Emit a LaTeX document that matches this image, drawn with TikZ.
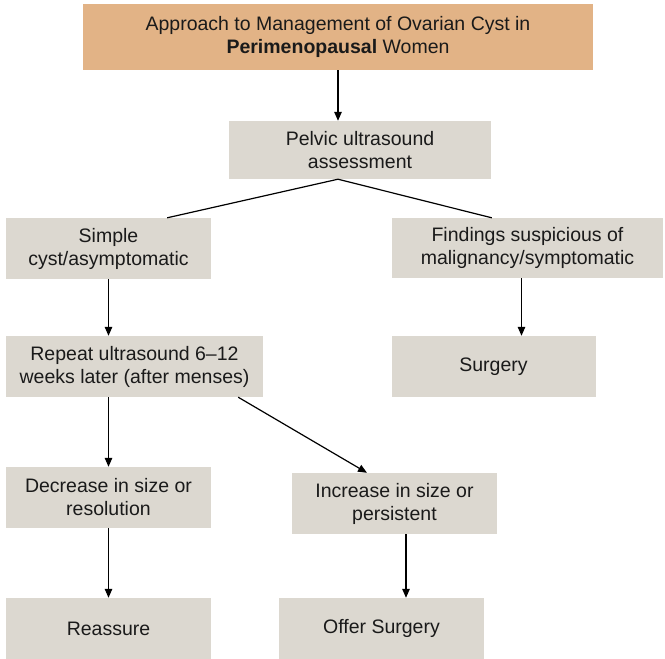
\documentclass[tikz,border=0pt]{standalone}
\usepackage{fontspec}
\setmainfont{Liberation Sans}
\usetikzlibrary{arrows.meta}
\definecolor{headfill}{HTML}{E2B386}
\definecolor{boxfill}{HTML}{DCD8D0}
\definecolor{inktext}{HTML}{1A1A1A}
\begin{document}
\begin{tikzpicture}[x=1pt,y=-1pt,
  box/.style={fill=boxfill, draw=none, align=center, inner sep=2pt,
    text=inktext, font=\fontsize{19.5}{23}\selectfont},
  headbox/.style={box, fill=headfill},
  link/.style={line width=1.2pt, draw=black},
  arr/.style={link, -{Triangle[length=9pt,width=7.5pt]}}]
\useasboundingbox (0,0) rectangle (665,659);

% boxes
\node[headbox, minimum width=510pt, minimum height=66pt] (title) at (338,37)
  {Approach to Management of Ovarian Cyst in\\\textbf{Perimenopausal} Women};
\node[box, minimum width=262pt, minimum height=58pt] (pelvic) at (360,150)
  {Pelvic ultrasound\\assessment};
\node[box, minimum width=205pt, minimum height=61pt] (simple) at (108.5,248.5)
  {Simple\\cyst/asymptomatic};
\node[box, minimum width=271pt, minimum height=60pt] (findings) at (527.5,248)
  {Findings suspicious of\\malignancy/symptomatic};
\node[box, minimum width=257pt, minimum height=61pt] (repeat) at (134.5,366.5)
  {Repeat ultrasound 6--12\\weeks later (after menses)};
\node[box, minimum width=204pt, minimum height=61pt] (surgery) at (493.5,366.5)
  {Surgery};
\node[box, minimum width=205pt, minimum height=61pt] (decrease) at (108.5,497.5)
  {Decrease in size or\\resolution};
\node[box, minimum width=205pt, minimum height=61pt] (increase) at (394.5,503.5)
  {Increase in size or\\persistent};
\node[box, minimum width=205pt, minimum height=61pt] (reassure) at (108.5,628.5)
  {Reassure};
\node[box, minimum width=205pt, minimum height=61pt] (offer) at (381.5,628.5)
  {Offer Surgery};

% connectors
\draw[arr] (title.south) -- (title.south |- pelvic.north);
\coordinate (split) at ([xshift=-22pt]pelvic.south);
\draw[link] ([xshift=-44pt]simple.north east) -- (split)
  -- ([xshift=100pt]findings.north west);
\draw[arr] (simple.south) -- (simple.south |- repeat.north);
\coordinate (fdown) at ([xshift=-6pt]findings.south);
\draw[arr] (fdown) -- (fdown |- surgery.north);
\draw[arr] (decrease.north |- repeat.south) -- (decrease.north);
\draw[arr] ([xshift=-25pt]repeat.south east) -- ([xshift=-27.5pt]increase.north);
\draw[arr] (decrease.south) -- (reassure.north);
\coordinate (idown) at ([xshift=11.5pt]increase.south);
\draw[arr] (idown) -- (idown |- offer.north);
\end{tikzpicture}
\end{document}
